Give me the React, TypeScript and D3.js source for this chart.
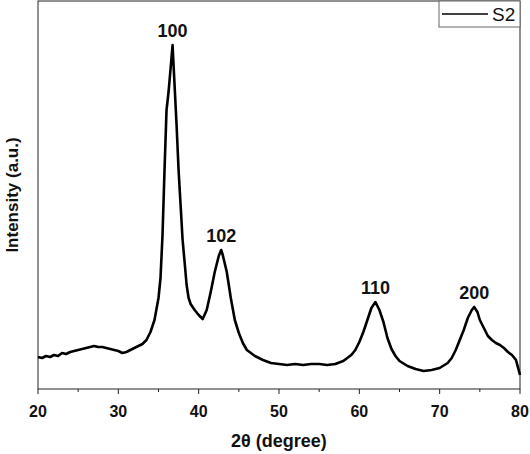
import React, { useEffect, useRef } from 'react';
import * as d3 from 'd3';

// 2-theta positions (degree) and intensity (a.u.)
const twoTheta = [
  20.0, 20.5, 21.0, 21.5, 22.0, 22.5, 23.0, 23.5, 24.0, 24.5, 25.0, 25.5, 26.0, 26.5, 27.0, 27.5,
  28.0, 28.5, 29.0, 29.5, 30.0, 30.5, 31.0, 31.5, 32.0, 32.5, 33.0, 33.5, 34.0, 34.5, 35.0, 35.25,
  35.5, 35.75, 36.0, 36.25, 36.5, 36.75, 37.0, 37.25, 37.5, 37.75, 38.0, 38.25, 38.5, 38.75, 39.0,
  39.5, 40.0, 40.5, 41.0, 41.5, 42.0, 42.5, 42.8, 43.0, 43.5, 44.0, 44.5, 45.0, 45.5, 46.0, 46.5,
  47.0, 48.0, 49.0, 50.0, 51.0, 52.0, 53.0, 54.0, 55.0, 56.0, 57.0, 58.0, 58.5, 59.0, 59.5, 60.0,
  60.5, 61.0, 61.5, 62.0, 62.5, 63.0, 63.5, 64.0, 64.5, 65.0, 66.0, 67.0, 68.0, 69.0, 70.0, 71.0,
  71.5, 72.0, 72.5, 73.0, 73.5, 74.0, 74.3, 74.7, 75.0, 75.5, 76.0, 76.5, 77.0, 77.5, 78.0, 78.5,
  79.0, 79.5, 80.0,
];
const intensity = [
  32, 31, 33, 32, 34, 33, 36, 35, 37, 38, 39, 40, 41, 42, 43, 42,
  42, 41, 40, 39, 38, 36, 37, 39, 41, 43, 45, 49, 57, 69, 91, 111,
  154, 219, 279, 297, 320, 344, 304, 264, 219, 184, 149, 127, 104, 91, 85,
  79, 74, 70, 79, 97, 117, 133, 139, 134, 117, 91, 69, 56, 46, 39, 36,
  33, 29, 26, 25, 24, 25, 24, 25, 25, 24, 25, 28, 31, 34, 39, 47,
  57, 69, 81, 87, 79, 67, 51, 40, 33, 28, 23, 20, 18, 19, 21, 26,
  31, 39, 49, 59, 71, 79, 82, 77, 69, 61, 53, 49, 46, 44, 41, 37,
  34, 29, 14,
];
const peakLabels = ['100', '102', '110', '200'];
const peakPos = [36.75, 42.8, 62.0, 74.3];
const peakVal = [344, 139, 87, 82];
const xTicks = [20, 30, 40, 50, 60, 70, 80];
const xMinorTicks = [25, 35, 45, 55, 65, 75];
const seriesName = 'S2';

const W = 530;
const H = 454;
const margin = { left: 38, right: 10, top: 1, bottom: 65 };

const App = () => {
  const ref = useRef<SVGSVGElement>(null);

  useEffect(() => {
    if (!ref.current) return;
    const svg = d3.select(ref.current);
    svg.selectAll('*').remove();

    const x0 = margin.left;
    const x1 = W - margin.right;
    const y0 = H - margin.bottom;
    const y1 = margin.top;

    const x = d3.scaleLinear().domain([20, 80]).range([x0, x1]);
    const y = d3.scaleLinear().domain([0, 388]).range([y0, y1]);

    const font = 'Arial, "Liberation Sans", sans-serif';

    // frame
    svg.append('rect')
      .attr('x', x0).attr('y', y1)
      .attr('width', x1 - x0).attr('height', y0 - y1)
      .attr('fill', 'none')
      .attr('stroke', '#222')
      .attr('stroke-width', 1);

    // x axis ticks
    const ax = svg.append('g').attr('transform', `translate(0,${y0})`);
    ax.selectAll('line.major')
      .data(xTicks)
      .join('line')
      .attr('class', 'major')
      .attr('x1', d => x(d)).attr('x2', d => x(d))
      .attr('y1', 0).attr('y2', 5)
      .attr('stroke', '#222');
    ax.selectAll('line.minor')
      .data(xMinorTicks)
      .join('line')
      .attr('class', 'minor')
      .attr('x1', d => x(d)).attr('x2', d => x(d))
      .attr('y1', 0).attr('y2', 3)
      .attr('stroke', '#222');
    ax.selectAll('text')
      .data(xTicks)
      .join('text')
      .attr('x', d => x(d))
      .attr('y', 28)
      .attr('text-anchor', 'middle')
      .style('font-family', font)
      .style('font-weight', 'bold')
      .style('font-size', '16px')
      .attr('fill', '#111')
      .text(d => d);

    // axis titles
    svg.append('text')
      .attr('x', (x0 + x1) / 2)
      .attr('y', 447)
      .attr('text-anchor', 'middle')
      .style('font-family', font)
      .style('font-weight', 'bold')
      .style('font-size', '18px')
      .attr('fill', '#111')
      .text('2θ (degree)');

    svg.append('text')
      .attr('transform', `translate(18,${(y0 + y1) / 2}) rotate(-90)`)
      .attr('text-anchor', 'middle')
      .style('font-family', font)
      .style('font-weight', 'bold')
      .style('font-size', '17px')
      .attr('fill', '#111')
      .text('Intensity (a.u.)');

    // pattern
    const line = d3.line<number>()
      .x((d, i) => x(twoTheta[i]))
      .y(d => y(d));
    svg.append('path')
      .datum(intensity)
      .attr('d', line)
      .attr('fill', 'none')
      .attr('stroke', '#000')
      .attr('stroke-width', 2.6)
      .attr('stroke-linejoin', 'round');

    // peak labels
    svg.selectAll('text.peak')
      .data(peakLabels)
      .join('text')
      .attr('class', 'peak')
      .attr('x', (d, i) => x(peakPos[i]))
      .attr('y', (d, i) => y(peakVal[i]) - 8)
      .attr('text-anchor', 'middle')
      .style('font-family', font)
      .style('font-weight', 'bold')
      .style('font-size', '18px')
      .attr('fill', '#111')
      .text(d => d);

    // legend
    const lg = svg.append('g');
    lg.append('rect')
      .attr('x', 439).attr('y', y1)
      .attr('width', x1 - 439).attr('height', 26)
      .attr('fill', '#fff')
      .attr('stroke', '#666')
      .attr('stroke-width', 1);
    lg.append('line')
      .attr('x1', 442).attr('x2', 488)
      .attr('y1', 14).attr('y2', 14)
      .attr('stroke', '#000')
      .attr('stroke-width', 1.5);
    lg.append('text')
      .attr('x', 492).attr('y', 21)
      .style('font-family', font)
      .style('font-size', '19px')
      .attr('fill', '#111')
      .text(seriesName);
  }, []);

  return (
    <svg
      ref={ref}
      width={W}
      height={H}
      style={{ position: 'absolute', left: 0, top: 0, background: '#fff' }}
    />
  );
};

export default App;
